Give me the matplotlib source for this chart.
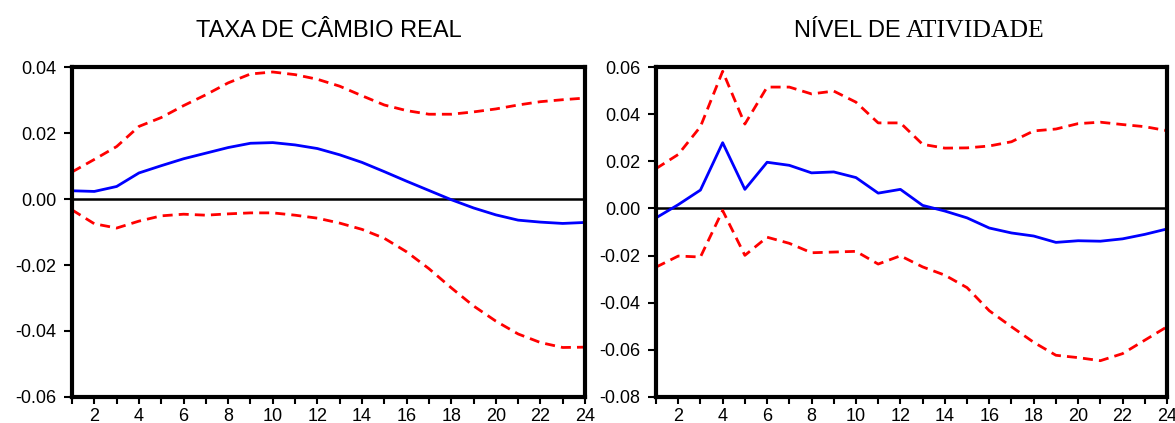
"""
Impulse responses with confidence bands: real exchange rate and activity level.
"""

import matplotlib
matplotlib.use('Agg')
import matplotlib.pyplot as plt
import numpy as np

# ---------------------------------------------------------------------------
# Data
# ---------------------------------------------------------------------------
PERIODS = list(range(1, 25))

CAMBIO_RESP = [0.0025, 0.0023, 0.0038, 0.0079, 0.0101, 0.0122, 0.0139, 0.0156,
               0.0169, 0.0171, 0.0164, 0.0153, 0.0134, 0.0111, 0.0083, 0.0054,
               0.0026, -0.0002, -0.0027, -0.0048, -0.0064, -0.0070, -0.0074, -0.0071]
CAMBIO_UPPER = [0.0082, 0.0120, 0.0159, 0.0220, 0.0247, 0.0283, 0.0316, 0.0352,
                0.0379, 0.0385, 0.0377, 0.0363, 0.0342, 0.0313, 0.0285, 0.0268,
                0.0257, 0.0257, 0.0264, 0.0273, 0.0285, 0.0295, 0.0301, 0.0306]
CAMBIO_LOWER = [-0.0033, -0.0075, -0.0088, -0.0067, -0.0051, -0.0046, -0.0049, -0.0045,
                -0.0042, -0.0042, -0.0049, -0.0058, -0.0073, -0.0092, -0.0119, -0.0160,
                -0.0211, -0.0269, -0.0324, -0.0370, -0.0409, -0.0435, -0.0450, -0.0449]

ATIV_RESP = [-0.0040, 0.0016, 0.0078, 0.0279, 0.0081, 0.0196, 0.0183, 0.0151,
             0.0155, 0.0131, 0.0065, 0.0081, 0.0013, -0.0011, -0.0040, -0.0083,
             -0.0104, -0.0117, -0.0144, -0.0137, -0.0139, -0.0129, -0.0110, -0.0087]
ATIV_UPPER = [0.0169, 0.0229, 0.0347, 0.0582, 0.0358, 0.0515, 0.0515, 0.0486,
              0.0498, 0.0451, 0.0363, 0.0363, 0.0272, 0.0256, 0.0257, 0.0265,
              0.0283, 0.0329, 0.0337, 0.0360, 0.0366, 0.0356, 0.0347, 0.0330]
ATIV_LOWER = [-0.0249, -0.0202, -0.0206, -0.0009, -0.0199, -0.0122, -0.0148, -0.0188,
              -0.0185, -0.0182, -0.0236, -0.0201, -0.0248, -0.0283, -0.0336, -0.0434,
              -0.0502, -0.0568, -0.0623, -0.0633, -0.0646, -0.0616, -0.0559, -0.0502]

CAMBIO_YTICKS = [-0.06, -0.04, -0.02, 0.00, 0.02, 0.04]
ATIV_YTICKS = [-0.08, -0.06, -0.04, -0.02, 0.00, 0.02, 0.04, 0.06]

plt.rcParams['font.family'] = ['Liberation Sans', 'DejaVu Sans']
plt.rcParams['axes.unicode_minus'] = False


# ---------------------------------------------------------------------------
# Helpers
# ---------------------------------------------------------------------------

def draw_panel(ax, resp, upper, lower, yticks):
    ax.plot(PERIODS, upper, color='#ff0000', lw=2.0, ls=(0, (3.6, 2.2)))
    ax.plot(PERIODS, lower, color='#ff0000', lw=2.0, ls=(0, (3.6, 2.2)))
    ax.plot(PERIODS, resp, color='#0000ff', lw=2.0)
    ax.axhline(0, color='black', lw=1.8, zorder=1)

    ax.set_xlim(1, 24)
    ax.set_ylim(yticks[0], yticks[-1])
    ax.set_xticks(PERIODS)
    ax.set_xticklabels([str(p) if p % 2 == 0 else '' for p in PERIODS])
    ax.set_yticks(yticks)
    ax.set_yticklabels([f'{t:.2f}' for t in yticks])

    for sp in ax.spines.values():
        sp.set_linewidth(3.0)
    ax.tick_params(axis='both', direction='out', labelsize=13, width=1.5,
                   color='black')
    ax.tick_params(axis='y', length=6, pad=5)
    ax.tick_params(axis='x', length=5, pad=3)


# ---------------------------------------------------------------------------
# Main
# ---------------------------------------------------------------------------

fig = plt.figure(figsize=(11.75, 4.23), dpi=100)
ax1 = fig.add_axes([0.0613, 0.0615, 0.4366, 0.780])
ax2 = fig.add_axes([0.5583, 0.0615, 0.4349, 0.780])

draw_panel(ax1, CAMBIO_RESP, CAMBIO_UPPER, CAMBIO_LOWER, CAMBIO_YTICKS)
draw_panel(ax2, ATIV_RESP, ATIV_UPPER, ATIV_LOWER, ATIV_YTICKS)

# titles (the second one mixes a sans and a serif face, as in the source)
fig.text(0.2800, 0.9125, 'TAXA DE CÂMBIO REAL', ha='center', va='baseline',
         fontsize=17)
fig.text(0.7665, 0.9125, 'NÍVEL DE', ha='right', va='baseline', fontsize=17)
fig.text(0.7705, 0.9125, 'ATIVIDADE', ha='left', va='baseline', fontsize=18.5,
         family=['Liberation Serif', 'DejaVu Serif'])

fig.savefig('out.png', dpi=100)
